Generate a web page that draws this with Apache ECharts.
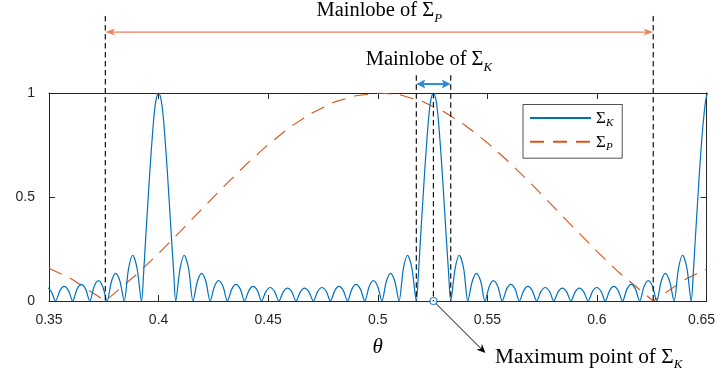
<!DOCTYPE html>
<html><head><meta charset="utf-8">
<script src="https://cdn.jsdelivr.net/npm/echarts@6/dist/echarts.min.js"></script>
<style>html,body{margin:0;padding:0;background:#fff}#c{width:715px;height:371px}</style>
</head><body><div id="c"></div>
<script>
// ---- data ----
const xTickLabels = ['0.35', '0.4', '0.45', '0.5', '0.55', '0.6', '0.65'];
const yTickLabels = ['0', '0.5', '1'];

// Sigma_K (blue, solid): [theta, value]
const sigmaK = [
  [0.3451,0],
  [0.3471,0.046],[0.3490,0.065],[0.3510,0.046],[0.3530,0],
  [0.3550,0.050],[0.3569,0.070],[0.3589,0.050],[0.3608,0],
  [0.3628,0.057],[0.3647,0.080],[0.3667,0.057],[0.3686,0],
  [0.3706,0.070],[0.3725,0.098],[0.3745,0.070],[0.3765,0],
  [0.3785,0.094],[0.3804,0.133],[0.3824,0.094],[0.3843,0],
  [0.3863,0.156],[0.3882,0.220],[0.3902,0.156],[0.3922,0],
  [0.3932,0.139],[0.3941,0.300],[0.3951,0.470],[0.3961,0.637],[0.3971,0.785],[0.3980,0.900],[0.3990,0.975],
  [0.4000,1],
  [0.4010,0.975],[0.4020,0.900],[0.4029,0.785],[0.4039,0.637],[0.4049,0.470],[0.4059,0.300],[0.4069,0.139],
  [0.4078,0],
  [0.4098,0.156],[0.4117,0.220],[0.4137,0.156],[0.4157,0],
  [0.4177,0.094],[0.4196,0.133],[0.4216,0.094],[0.4235,0],
  [0.4255,0.070],[0.4274,0.098],[0.4294,0.070],[0.4314,0],
  [0.4334,0.057],[0.4353,0.080],[0.4373,0.057],[0.4392,0],
  [0.4412,0.050],[0.4431,0.070],[0.4451,0.050],[0.4470,0],
  [0.4490,0.046],[0.4509,0.065],[0.4529,0.046],[0.4549,0],
  [0.4569,0.044],[0.4588,0.062],[0.4608,0.044],[0.4627,0],
  [0.4647,0.044],[0.4666,0.062],[0.4686,0.044],[0.4706,0],
  [0.4726,0.046],[0.4745,0.065],[0.4765,0.046],[0.4784,0],
  [0.4804,0.050],[0.4823,0.070],[0.4843,0.050],[0.4862,0],
  [0.4882,0.057],[0.4901,0.080],[0.4921,0.057],[0.4941,0],
  [0.4961,0.070],[0.4980,0.098],[0.5000,0.070],[0.5019,0],
  [0.5039,0.094],[0.5058,0.133],[0.5078,0.094],[0.5097,0],
  [0.5117,0.156],[0.5136,0.220],[0.5156,0.156],[0.5176,0],
  [0.5186,0.139],[0.5195,0.300],[0.5205,0.470],[0.5215,0.637],[0.5225,0.785],[0.5234,0.900],[0.5244,0.975],
  [0.5254,1],
  [0.5264,0.975],[0.5274,0.900],[0.5283,0.785],[0.5293,0.637],[0.5303,0.470],[0.5313,0.300],[0.5323,0.139],
  [0.5333,0],
  [0.5353,0.156],[0.5372,0.220],[0.5392,0.156],[0.5411,0],
  [0.5431,0.094],[0.5450,0.133],[0.5470,0.094],[0.5489,0],
  [0.5509,0.070],[0.5528,0.098],[0.5548,0.070],[0.5568,0],
  [0.5588,0.057],[0.5607,0.080],[0.5627,0.057],[0.5646,0],
  [0.5666,0.050],[0.5685,0.070],[0.5705,0.050],[0.5725,0],
  [0.5745,0.046],[0.5764,0.065],[0.5784,0.046],[0.5803,0],
  [0.5823,0.044],[0.5842,0.062],[0.5862,0.044],[0.5881,0],
  [0.5901,0.044],[0.5920,0.062],[0.5940,0.044],[0.5960,0],
  [0.5980,0.046],[0.5999,0.065],[0.6019,0.046],[0.6038,0],
  [0.6058,0.050],[0.6077,0.070],[0.6097,0.050],[0.6117,0],
  [0.6137,0.057],[0.6156,0.080],[0.6176,0.057],[0.6195,0],
  [0.6215,0.070],[0.6234,0.098],[0.6254,0.070],[0.6273,0],
  [0.6293,0.094],[0.6312,0.133],[0.6332,0.094],[0.6352,0],
  [0.6372,0.156],[0.6391,0.220],[0.6411,0.156],[0.6430,0],
  [0.6440,0.139],[0.6449,0.300],[0.6459,0.470],[0.6469,0.637],[0.6479,0.785],[0.6489,0.900],[0.6498,0.975],
  [0.6508,1],[0.6518,0.975]
];

// Sigma_P (orange, dashed): [theta, value]
const sigmaP = [
  [0.35,0.158],[0.36,0.108],[0.3757,0],[0.39,0.128],[0.40,0.229],[0.41,0.335],[0.42,0.445],
  [0.43,0.553],[0.44,0.657],[0.45,0.752],[0.46,0.836],[0.47,0.904],[0.48,0.956],[0.49,0.987],
  [0.5007,1],[0.51,0.992],[0.52,0.961],[0.53,0.911],[0.54,0.844],[0.55,0.761],[0.56,0.667],
  [0.57,0.564],[0.58,0.455],[0.59,0.346],[0.60,0.239],[0.61,0.138],[0.6257,0],[0.64,0.102],[0.65,0.154]
];

// annotation anchors (data coordinates)
const mainlobeP = [0.3757, 0.6257];
const mainlobeK = [0.5176, 0.5333];
const peakK = [[0.5254, 0]];

const serif = 'Liberation Serif';
const sans = 'Liberation Sans';
const axisColor = '#262626';

const chart = echarts.init(document.getElementById('c'), null, {renderer: 'canvas'});

function xAx(pos, show) {
  return {
    type: 'value', position: pos, min: 0.35, max: 0.65, interval: 0.05,
    axisLine: {show: true, onZero: false, lineStyle: {color: axisColor, width: 1}},
    axisTick: {show: true, inside: true, length: 6, lineStyle: {color: axisColor, width: 1}},
    axisLabel: {show: show, margin: 12, color: axisColor, fontSize: 14, fontFamily: sans,
      formatter: v => {
        const i = Math.round((v - 0.35) / 0.05);
        return i === xTickLabels.length - 1 ? '{last|' + xTickLabels[i] + '}' : xTickLabels[i];
      },
      rich: {last: {color: axisColor, fontSize: 14, fontFamily: sans, padding: [0, 10, 0, 0]}}},
    splitLine: {show: false}
  };
}
function yAx(pos, show) {
  return {
    type: 'value', position: pos, min: 0, max: 1, interval: 0.5,
    axisLine: {show: true, onZero: false, lineStyle: {color: axisColor, width: 1}},
    axisTick: {show: true, inside: true, length: 6, lineStyle: {color: axisColor, width: 1}},
    axisLabel: {show: show, margin: 14, color: axisColor, fontSize: 14, fontFamily: sans,
      formatter: v => yTickLabels[Math.round(v / 0.5)]},
    splitLine: {show: false}
  };
}

const richLegend = {
  s: {fontFamily: serif, fontSize: 17, lineHeight: 15, color: '#000', verticalAlign: 'top'},
  k: {fontFamily: serif, fontSize: 11, fontStyle: 'italic', lineHeight: 10, padding: [7, 0, 0, 0], color: '#000', verticalAlign: 'top'}
};

chart.setOption({
  animation: false,
  backgroundColor: '#fff',
  grid: {left: 49, right: 8.5, top: 93, bottom: 70, containLabel: false, outerBoundsMode: 'none'},
  xAxis: [xAx('bottom', true), xAx('top', false)],
  yAxis: [yAx('left', true), yAx('right', false)],
  legend: {
    orient: 'vertical', left: 523, top: 104.5,
    itemWidth: 61, itemHeight: 17, itemGap: 5.7, padding: [6, 9, 6, 6],
    backgroundColor: '#fff', borderColor: axisColor, borderWidth: 0.8,
    data: ['SK', 'SP'],
    itemStyle: {opacity: 0},
    formatter: n => n === 'SK' ? '{s|Σ}{k|K}' : '{s|Σ}{k|P}',
    textStyle: {rich: richLegend}
  },
  series: [
    {
      name: 'SK', type: 'line', data: sigmaK, symbol: 'none', showSymbol: false,
      smooth: 0.3, clip: true, z: 3,
      lineStyle: {color: '#0072BD', width: 1.2}, itemStyle: {color: '#0072BD'}
    },
    {
      name: 'SP', type: 'line', data: sigmaP, symbol: 'none', showSymbol: false,
      clip: true, z: 2,
      lineStyle: {color: '#D95319', width: 1.1, type: [14, 9]}, itemStyle: {color: '#D95319'}
    },
    {
      name: 'max', type: 'scatter', data: peakK, symbol: 'circle', symbolSize: 7, clip: false, z: 12,
      itemStyle: {color: '#fff', borderColor: '#0072BD', borderWidth: 1.2}
    }
  ]
});

// ---- annotations positioned through the axes ----
const P = (x, y) => chart.convertToPixel({xAxisIndex: 0, yAxisIndex: 0}, [x, y]);

function vdash(x, yTopVal) {
  const a = P(x, yTopVal), b = P(x, 0);
  return {type: 'line', z: 20, silent: true, shape: {x1: a[0], y1: a[1], x2: b[0], y2: b[1]},
    style: {stroke: '#111', lineWidth: 1.2, lineDash: [5.5, 3.5]}};
}
function head(tip, ux, uy, len, half, notch, color) {
  const bx = tip[0] - ux * len, by = tip[1] - uy * len;
  const nx = -uy, ny = ux;
  return {type: 'polygon', z: 21, silent: true,
    shape: {points: [[tip[0], tip[1]], [bx + nx * half, by + ny * half],
      [tip[0] - ux * notch, tip[1] - uy * notch], [bx - nx * half, by - ny * half]]},
    style: {fill: color}};
}
function dblArrow(x1, x2, v, color, w, len, half, notch) {
  const a = P(x1, v), b = P(x2, v);
  return [
    {type: 'line', z: 21, silent: true, shape: {x1: a[0] + len * 0.6, y1: a[1], x2: b[0] - len * 0.6, y2: b[1]},
      style: {stroke: color, lineWidth: w}},
    head(a, -1, 0, len, half, notch, color),
    head(b, 1, 0, len, half, notch, color)
  ];
}
function richBig(size) {
  return {
    m: {fontFamily: serif, fontSize: size, lineHeight: 24, color: '#000', verticalAlign: 'top'},
    k: {fontFamily: serif, fontSize: 13, fontStyle: 'italic', lineHeight: 13, padding: [12, 0, 0, 0], color: '#000', verticalAlign: 'top'}
  };
}
function label(x, yPixel, text, align, size) {
  const p = P(x, 0);
  return {type: 'text', z: 22, silent: true, x: p[0], y: yPixel,
    style: {text: text, rich: richBig(size), align: align, verticalAlign: 'middle'}};
}

const peak = peakK[0];
const pk = P(peak[0], peak[1]);
const tip = [pk[0] + 52, pk[1] + 52];
const d0 = Math.hypot(tip[0] - pk[0], tip[1] - pk[1]);
const ux = (tip[0] - pk[0]) / d0, uy = (tip[1] - pk[1]) / d0;

const els = [
  vdash(mainlobeP[0], 1.37), vdash(mainlobeP[1], 1.37),
  vdash(mainlobeK[0], 1.085), vdash(mainlobeK[1], 1.085),
  vdash(peak[0], 1.0),
  ...dblArrow(mainlobeP[0], mainlobeP[1], 1.293, '#E9825B', 1.3, 10, 3.5, 7),
  ...dblArrow(mainlobeK[0], mainlobeK[1], 1.043, '#2C8BD8', 2, 9, 4.5, 7),
  {type: 'line', z: 21, silent: true,
    shape: {x1: pk[0] + ux * 4, y1: pk[1] + uy * 4, x2: tip[0] - ux * 5, y2: tip[1] - uy * 5},
    style: {stroke: '#000', lineWidth: 1}},
  head(tip, ux, uy, 9, 4, 6, '#000'),
  label((mainlobeP[0] + mainlobeP[1]) / 2, 12, '{m|Mainlobe of Σ}{k|P}', 'center', 20.5),
  label(0.4945, 61.5, '{m|Mainlobe of Σ}{k|K}', 'left', 20.5),
  label(0.5535, 358.5, '{m|Maximum point of Σ}{k|K}', 'left', 21.3),
  {type: 'text', z: 22, silent: true, x: P(0.5, 0)[0], y: 347,
    style: {text: 'θ', font: 'italic 21px "Liberation Serif"', fill: '#000', align: 'center', verticalAlign: 'middle'}}
];
chart.setOption({graphic: {elements: els}});
</script>
</body></html>
